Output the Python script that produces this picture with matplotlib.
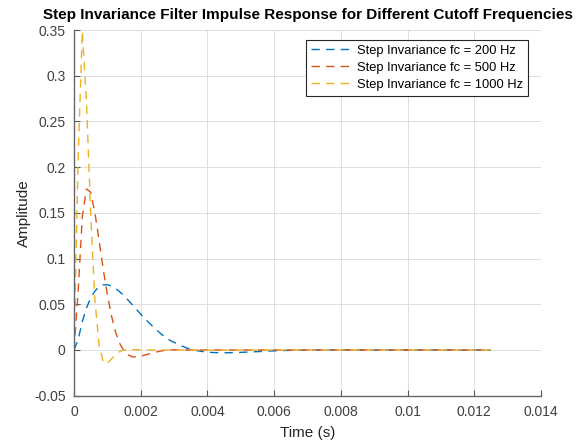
import matplotlib
matplotlib.use("Agg")
import matplotlib.pyplot as plt
from matplotlib.ticker import FuncFormatter, MultipleLocator

plt.rcParams['font.family'] = ['Liberation Sans', 'DejaVu Sans']
plt.rcParams['axes.unicode_minus'] = False

# sampling interval and end of the record (s)
Ts = 0.000125
t_end = 0.0125

labels = ["Step Invariance fc = 200 Hz",
          "Step Invariance fc = 500 Hz",
          "Step Invariance fc = 1000 Hz"]
colors = ["#0072BD", "#D95319", "#EDB120"]

# impulse-response samples (one value per sample)
h_200 = [0.0, 0.0114, 0.0310, 0.0460, 0.0569, 0.0644, 0.0691, 0.0712, 0.0714,
         0.0700, 0.0672, 0.0635, 0.0594, 0.0545, 0.0495, 0.0444, 0.0392, 0.0343,
         0.0297, 0.0253, 0.0213, 0.0171, 0.0139, 0.0106, 0.0084, 0.0062, 0.0041,
         0.0022, 0.0009, -0.0002, -0.0011, -0.0018, -0.0023, -0.0027, -0.0029,
         -0.0030, -0.0031, -0.0030, -0.0029, -0.0028, -0.0026, -0.0024, -0.0022,
         -0.0020, -0.0018, -0.0016, -0.0013, -0.0011, -0.0010, -0.0008, -0.0006,
         -0.0005, -0.0004, -0.0003, -0.0002, -0.0001, 0.0]
h_500 = [0.0, 0.0638, 0.1460, 0.1762, 0.1726, 0.1508, 0.1204, 0.0890, 0.0606,
         0.0373, 0.0193, 0.0069, -0.0011, -0.0054, -0.0074, -0.0076, -0.0069,
         -0.0056, -0.0043, -0.0030, -0.0019, -0.0010, -0.0004, 0.0, 0.0002,
         0.0002, 0.0]
h_1000 = [0.0, 0.2098, 0.3489, 0.2712, 0.1499, 0.0562, 0.0059, -0.0129, -0.0145,
          -0.0099, -0.0049, -0.0015, 0.0001, 0.0006, 0.0005, 0.0003, 0.0]

series = [h_200, h_500, h_1000]

fig = plt.figure(figsize=(5.87, 4.46), dpi=100)
ax = fig.add_axes([0.126, 0.1128, 0.7956, 0.8199])

for vals, lab, col in zip(series, labels, colors):
    t = [k * Ts for k in range(len(vals))] + [t_end]
    y = list(vals) + [0.0]
    ax.plot(t, y, linestyle=(0, (6, 4.5)), color=col, linewidth=1.0, label=lab)

ax.set_xlim(0, 0.014)
ax.set_ylim(-0.05, 0.35)
ax.xaxis.set_major_locator(MultipleLocator(0.002))
ax.yaxis.set_major_locator(MultipleLocator(0.05))
fmt = FuncFormatter(lambda v, p: "0" if abs(v) < 1e-12 else ("%g" % round(v, 6)))
ax.xaxis.set_major_formatter(fmt)
ax.yaxis.set_major_formatter(fmt)

ax.grid(True, color="#dedede", linewidth=0.7)
ax.set_axisbelow(True)
for s in ["top", "right"]:
    ax.spines[s].set_visible(False)
for s in ["left", "bottom"]:
    ax.spines[s].set_color("#666666")
    ax.spines[s].set_linewidth(1.0)
ax.tick_params(direction="in", length=4, width=0.8, color="#555555",
               labelsize=10, labelcolor="#404040")
ax.tick_params(axis="y", pad=6)
ax.tick_params(axis="x", pad=7)

ax.set_xlabel("Time (s)", fontsize=11, color="#262626", labelpad=5)
ax.set_ylabel("Amplitude", fontsize=11, color="#262626", labelpad=2)
ax.set_title("Step Invariance Filter Impulse Response for Different Cutoff Frequencies",
             fontsize=11, fontweight="bold", pad=8)

leg = ax.legend(loc="upper right", fontsize=9.3, frameon=True, fancybox=False,
                edgecolor="#262626", framealpha=1, borderpad=0.35, handlelength=3.25,
                handletextpad=0.35, labelspacing=0.4,
                bbox_to_anchor=(528 / 587, 1 - 40 / 446), bbox_transform=fig.transFigure,
                borderaxespad=0)
leg.get_frame().set_linewidth(0.8)

fig.savefig("out.png", dpi=100)
